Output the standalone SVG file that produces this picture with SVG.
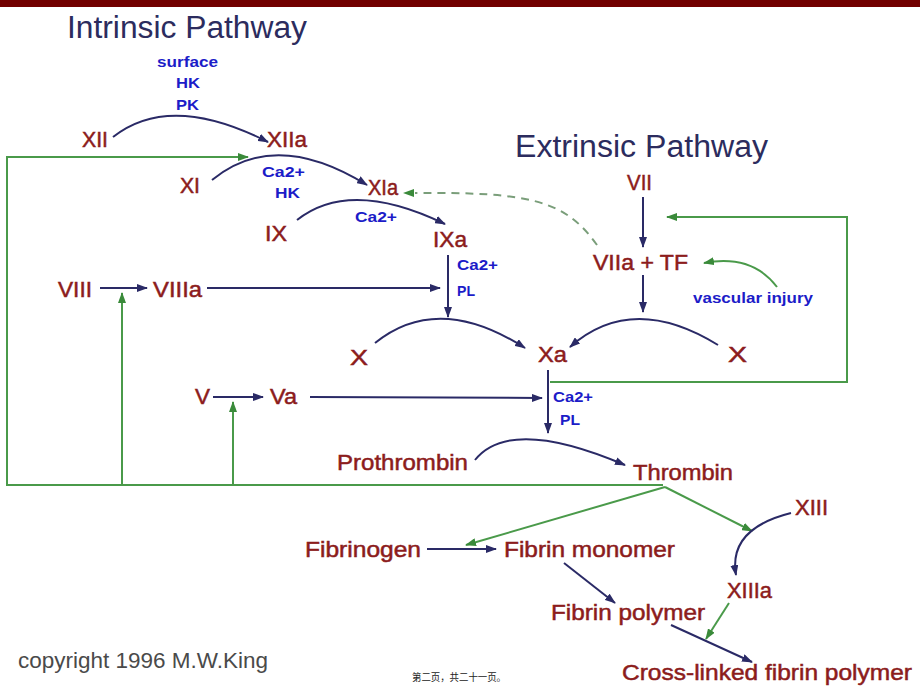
<svg xmlns="http://www.w3.org/2000/svg" width="920" height="689" viewBox="0 0 920 689">
<style>
text{font-family:"Liberation Sans",Arial,sans-serif}
.t{font-size:31px;fill:#2c2c5e}
.r{font-size:22px;fill:#8c1c1c;stroke:#8c1c1c;stroke-width:0.5}
.b{font-size:15px;font-weight:bold;fill:#1c1cc8}
.n{fill:none;stroke:#2a2a66;stroke-width:2}
.g{fill:none;stroke:#4a9a4a;stroke-width:2}
.d{fill:none;stroke:#7a9e7a;stroke-width:2;stroke-dasharray:8 6}
.c{font-size:22px;fill:#4a4a4a}
.cjk{font-family:"Liberation Sans","Noto Sans CJK SC",sans-serif;font-size:10px;fill:#222}
</style>
<defs>
<marker id="an" markerUnits="userSpaceOnUse" markerWidth="11" markerHeight="8" refX="10" refY="4" orient="auto"><path d="M0,0 L11,4 L0,8 z" fill="#2a2a66"/></marker>
<marker id="ag" markerUnits="userSpaceOnUse" markerWidth="11" markerHeight="8" refX="10" refY="4" orient="auto"><path d="M0,0 L11,4 L0,8 z" fill="#3a8a3a"/></marker>
</defs>
<rect width="920" height="689" fill="#fff"/>
<rect width="920" height="7" fill="#720000"/>

<g id="titles">
<text class="t" x="67" y="38" textLength="240" lengthAdjust="spacingAndGlyphs">Intrinsic Pathway</text>
<text class="t" x="515" y="157" textLength="253" lengthAdjust="spacingAndGlyphs">Extrinsic Pathway</text>
</g>

<g id="connectors">
<!-- green feedback loops -->
<path class="g" d="M663,485 L7,485 L7,157 L248,157" marker-end="url(#ag)"/>
<path class="g" d="M122,485 L122,293" marker-end="url(#ag)"/>
<path class="g" d="M233,485 L233,402" marker-end="url(#ag)"/>
<path class="g" d="M550,382 L847,382 L847,217 L667,217" marker-end="url(#ag)"/>
<path class="g" d="M777,287 Q752,254 704,263" marker-end="url(#ag)"/>
<path class="g" d="M665,487 L466,545" marker-end="url(#ag)"/>
<path class="g" d="M665,487 L752,531" marker-end="url(#ag)"/>
<path class="g" d="M729,603 L706,639" marker-end="url(#ag)"/>
<path class="d" d="M597,245 C565,200 530,192 415,193"/>
<path d="M403,193 L414,189 L414,197 z" fill="#3a8a3a"/>
<!-- navy reactions -->
<path class="n" d="M113,137 Q170,92 268,142" marker-end="url(#an)"/>
<path class="n" d="M212,180 Q275,128 367,185" marker-end="url(#an)"/>
<path class="n" d="M297,220 Q350,178 445,224" marker-end="url(#an)"/>
<path class="n" d="M448,255 L448,317" marker-end="url(#an)"/>
<path class="n" d="M100,288 L147,288" marker-end="url(#an)"/>
<path class="n" d="M207,288 L440,288" marker-end="url(#an)"/>
<path class="n" d="M375,343 Q438,292 525,348" marker-end="url(#an)"/>
<path class="n" d="M718,345 Q632,292 570,347" marker-end="url(#an)"/>
<path class="n" d="M643,197 L643,247" marker-end="url(#an)"/>
<path class="n" d="M643,275 L643,312" marker-end="url(#an)"/>
<path class="n" d="M548,370 L548,433" marker-end="url(#an)"/>
<path class="n" d="M213,397 L263,397" marker-end="url(#an)"/>
<path class="n" d="M310,397 L542,398" marker-end="url(#an)"/>
<path class="n" d="M475,460 Q510,416 625,465" marker-end="url(#an)"/>
<path class="n" d="M427,549 L496,549" marker-end="url(#an)"/>
<path class="n" d="M564,563 L615,603" marker-end="url(#an)"/>
<path class="n" d="M671,625 L752,662" marker-end="url(#an)"/>
<path class="n" d="M791,513 C755,522 730,540 736,575" marker-end="url(#an)"/>
</g>

<g id="n-XII"><text class="r" x="82" y="147" textLength="26" lengthAdjust="spacingAndGlyphs">XII</text></g>
<g id="n-XIIa"><text class="r" x="267" y="147" textLength="40" lengthAdjust="spacingAndGlyphs">XIIa</text></g>
<g id="n-XI"><text class="r" x="180" y="193" textLength="20" lengthAdjust="spacingAndGlyphs">XI</text></g>
<g id="n-XIa"><text class="r" x="368" y="195" textLength="30" lengthAdjust="spacingAndGlyphs">XIa</text></g>
<g id="n-IX"><text class="r" x="265" y="241" textLength="22" lengthAdjust="spacingAndGlyphs">IX</text></g>
<g id="n-IXa"><text class="r" x="433" y="247" textLength="34" lengthAdjust="spacingAndGlyphs">IXa</text></g>
<g id="n-VIII"><text class="r" x="58" y="297" textLength="34" lengthAdjust="spacingAndGlyphs">VIII</text></g>
<g id="n-VIIIa"><text class="r" x="153" y="297" textLength="49" lengthAdjust="spacingAndGlyphs">VIIIa</text></g>
<g id="n-X1"><text class="r" x="350" y="365" textLength="18" lengthAdjust="spacingAndGlyphs">X</text></g>
<g id="n-Xa"><text class="r" x="538" y="362" textLength="29" lengthAdjust="spacingAndGlyphs">Xa</text></g>
<g id="n-X2"><text class="r" x="728" y="362" textLength="19" lengthAdjust="spacingAndGlyphs">X</text></g>
<g id="n-VII"><text class="r" x="627" y="190" textLength="25" lengthAdjust="spacingAndGlyphs">VII</text></g>
<g id="n-VIIaTF"><text class="r" x="593" y="270" textLength="95" lengthAdjust="spacingAndGlyphs">VIIa + TF</text></g>
<g id="n-V"><text class="r" x="195" y="404" textLength="15" lengthAdjust="spacingAndGlyphs">V</text></g>
<g id="n-Va"><text class="r" x="270" y="404" textLength="27" lengthAdjust="spacingAndGlyphs">Va</text></g>
<g id="n-Prothrombin"><text class="r" x="337" y="470" textLength="131" lengthAdjust="spacingAndGlyphs">Prothrombin</text></g>
<g id="n-Thrombin"><text class="r" x="633" y="480" textLength="100" lengthAdjust="spacingAndGlyphs">Thrombin</text></g>
<g id="n-XIII"><text class="r" x="795" y="515" textLength="33" lengthAdjust="spacingAndGlyphs">XIII</text></g>
<g id="n-Fibrinogen"><text class="r" x="305" y="557" textLength="116" lengthAdjust="spacingAndGlyphs">Fibrinogen</text></g>
<g id="n-FibrinMonomer"><text class="r" x="504" y="557" textLength="171" lengthAdjust="spacingAndGlyphs">Fibrin monomer</text></g>
<g id="n-XIIIa"><text class="r" x="727" y="598" textLength="45" lengthAdjust="spacingAndGlyphs">XIIIa</text></g>
<g id="n-FibrinPolymer"><text class="r" x="551" y="620" textLength="154" lengthAdjust="spacingAndGlyphs">Fibrin polymer</text></g>
<g id="n-CrossLinked"><text class="r" x="622" y="680" textLength="290" lengthAdjust="spacingAndGlyphs">Cross-linked fibrin polymer</text></g>

<g id="cofactors">
<text class="b" x="157" y="67" textLength="61" lengthAdjust="spacingAndGlyphs">surface</text>
<text class="b" x="176" y="88" textLength="24" lengthAdjust="spacingAndGlyphs">HK</text>
<text class="b" x="176" y="110" textLength="23" lengthAdjust="spacingAndGlyphs">PK</text>
<text class="b" x="262" y="177" textLength="43" lengthAdjust="spacingAndGlyphs">Ca2+</text>
<text class="b" x="275" y="198" textLength="25" lengthAdjust="spacingAndGlyphs">HK</text>
<text class="b" x="355" y="222" textLength="42" lengthAdjust="spacingAndGlyphs">Ca2+</text>
<text class="b" x="457" y="270" textLength="41" lengthAdjust="spacingAndGlyphs">Ca2+</text>
<text class="b" x="457" y="296" textLength="18" lengthAdjust="spacingAndGlyphs">PL</text>
<text class="b" x="693" y="303" textLength="120" lengthAdjust="spacingAndGlyphs">vascular injury</text>
<text class="b" x="553" y="402" textLength="40" lengthAdjust="spacingAndGlyphs">Ca2+</text>
<text class="b" x="560" y="425" textLength="20" lengthAdjust="spacingAndGlyphs">PL</text>
</g>

<g id="footer">
<text class="c" x="18" y="668" textLength="250" lengthAdjust="spacingAndGlyphs">copyright 1996 M.W.King</text>
<text class="cjk" x="412" y="681" textLength="94" lengthAdjust="spacingAndGlyphs">第二页，共二十一页。</text>
</g>
</svg>
